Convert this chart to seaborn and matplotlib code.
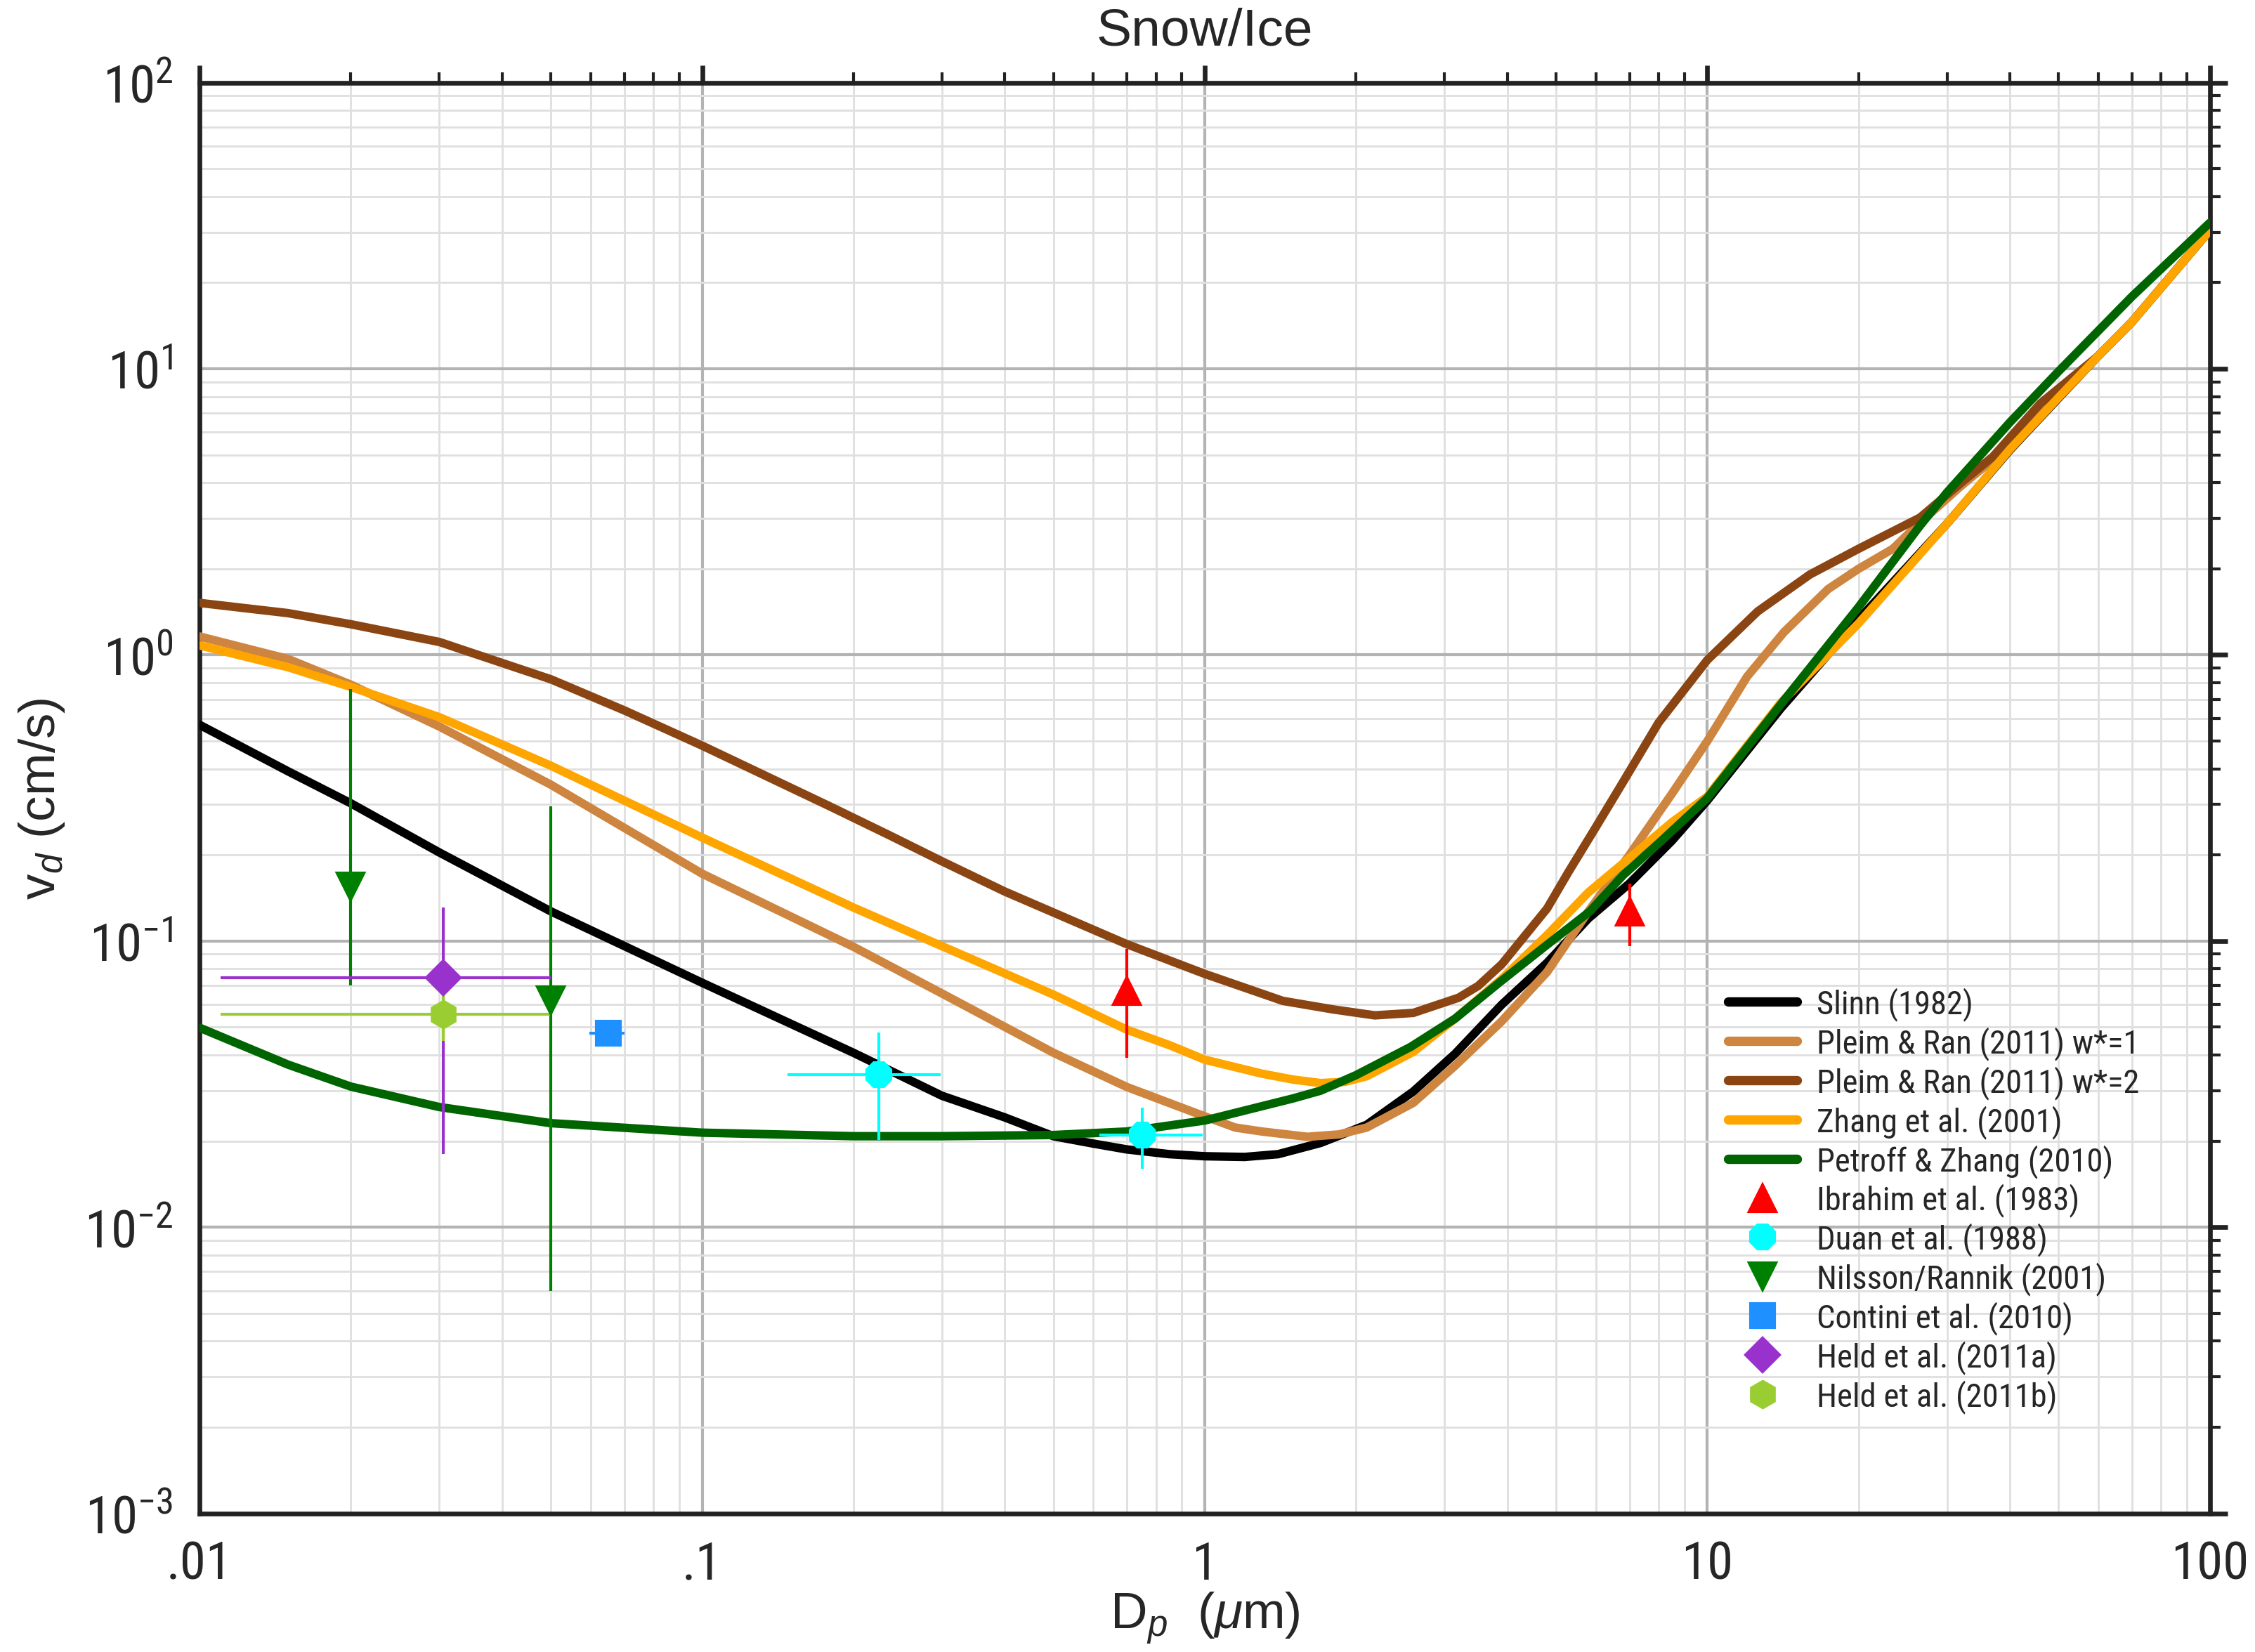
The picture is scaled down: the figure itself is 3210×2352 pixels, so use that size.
import numpy as np
import pandas as pd
import matplotlib
matplotlib.use("Agg")
import matplotlib.pyplot as plt
import matplotlib.ticker as mticker
from matplotlib.lines import Line2D
from matplotlib import font_manager
import seaborn as sns

# -------------------------
# model curves (D in um, vd in cm/s)
# -------------------------

slinn_d = [0.01, 0.015, 0.02, 0.03, 0.05, 0.1, 0.2, 0.3, 0.4, 0.5, 0.6, 0.7, 0.85,
           1.0, 1.2, 1.4, 1.7, 2.1, 2.6, 3.15, 3.9, 4.8, 5.8, 7.0, 8.5, 10, 14,
           20, 30, 40, 50, 60, 70, 100]
slinn_v = [0.57, 0.392, 0.303, 0.204, 0.127, 0.0715, 0.0407, 0.0288, 0.0242,
           0.0208, 0.0196, 0.0187, 0.018, 0.0177, 0.0176, 0.018, 0.0197, 0.0228,
           0.0298, 0.0404, 0.060, 0.084, 0.12, 0.159, 0.224, 0.31, 0.65, 1.33,
           2.88, 5.2, 7.9, 11.1, 14.6, 30.5]

pleim1_d = [0.01, 0.015, 0.02, 0.03, 0.05, 0.1, 0.2, 0.3, 0.5, 0.7, 1.0, 1.15,
            1.3, 1.6, 1.85, 2.1, 2.6, 3.15, 3.9, 4.8, 5.8, 7.0, 8.5, 10, 12,
            14.2, 17.4, 20, 23.4, 26.5, 32, 40, 50, 60, 70, 100]
pleim1_v = [1.16, 0.968, 0.787, 0.562, 0.352, 0.172, 0.0955, 0.0656, 0.0407,
            0.0309, 0.0244, 0.0223, 0.0216, 0.0207, 0.0211, 0.0223, 0.0272,
            0.0367, 0.0525, 0.078, 0.127, 0.2, 0.327, 0.5, 0.84, 1.2, 1.7, 2.0,
            2.35, 2.9, 3.9, 5.4, 8.0, 11.1, 14.6, 30.5]

pleim2_d = [0.01, 0.015, 0.02, 0.03, 0.05, 0.07, 0.1, 0.18, 0.235, 0.3, 0.4, 0.7,
            1.0, 1.43, 1.8, 2.18, 2.6, 3.2, 3.5, 3.9, 4.8, 5.3, 6.0, 6.8, 8.0,
            10, 12.6, 16, 20, 26.5, 32, 37, 46, 60, 70, 100]
pleim2_v = [1.52, 1.40, 1.28, 1.11, 0.822, 0.64, 0.482, 0.295, 0.235, 0.19,
            0.149, 0.0975, 0.0768, 0.0618, 0.0577, 0.055, 0.0561, 0.0634,
            0.0697, 0.083, 0.13, 0.175, 0.25, 0.36, 0.58, 0.96, 1.42, 1.91,
            2.35, 3.02, 4.0, 4.93, 7.57, 11.1, 14.6, 30.5]

zhang_d = [0.01, 0.015, 0.02, 0.03, 0.05, 0.1, 0.2, 0.3, 0.5, 0.7, 0.85, 1.0,
           1.3, 1.5, 1.7, 1.9, 2.1, 2.6, 3.15, 3.9, 4.8, 5.8, 7.0, 8.5, 10, 14,
           20, 30, 40, 50, 60, 70, 100]
zhang_v = [1.08, 0.906, 0.773, 0.606, 0.41, 0.23, 0.131, 0.096, 0.065, 0.049,
           0.0433, 0.0385, 0.0344, 0.0328, 0.0319, 0.0322, 0.0337, 0.041,
           0.0536, 0.0738, 0.105, 0.148, 0.195, 0.26, 0.32, 0.68, 1.29, 2.88,
           5.23, 7.94, 11.1, 14.6, 30.5]

petroff_d = [0.01, 0.015, 0.02, 0.03, 0.05, 0.1, 0.2, 0.3, 0.5, 0.7, 1.0, 1.5,
             1.7, 2.0, 2.57, 3.15, 3.87, 4.76, 5.84, 6.8, 8.1, 10, 14.2, 20,
             26.5, 30, 40, 50, 70, 100]
petroff_v = [0.0498, 0.037, 0.031, 0.0263, 0.0231, 0.0214, 0.0208, 0.0208,
             0.0210, 0.0216, 0.0236, 0.0282, 0.030, 0.034, 0.0427, 0.0536,
             0.072, 0.096, 0.127, 0.17, 0.224, 0.316, 0.693, 1.47, 2.83, 3.70,
             6.5, 9.8, 17.9, 32.4]

model_names = ["Slinn (1982)", "Pleim & Ran (2011) w*=1", "Pleim & Ran (2011) w*=2",
               "Zhang et al. (2001)", "Petroff & Zhang (2010)"]
model_colors = ["#000000", "#CD853F", "#8B4513", "#FFA500", "#006400"]

# -------------------------
# measurements
# -------------------------

ibrahim_d = [0.70, 7.0]
ibrahim_v = [0.0669, 0.1265]
ibrahim_vlo = [0.039, 0.096]
ibrahim_vhi = [0.0937, 0.159]

duan_d = [0.2245, 0.75]
duan_v = [0.0341, 0.021]
duan_dlo = [0.148, 0.617]
duan_dhi = [0.298, 0.99]
duan_vlo = [0.0202, 0.016]
duan_vhi = [0.048, 0.0261]

nilsson_d = [0.02, 0.05]
nilsson_v = [0.155, 0.062]
nilsson_vlo = [0.07, 0.006]
nilsson_vhi = [0.76, 0.296]

contini_d = [0.065]
contini_v = [0.0477]
contini_dlo = [0.0597]
contini_dhi = [0.070]

helda_d = [0.0305]
helda_v = [0.0746]
helda_dlo = [0.011]
helda_dhi = [0.05]
helda_vlo = [0.018]
helda_vhi = [0.131]

heldb_d = [0.0305]
heldb_v = [0.0555]
heldb_dlo = [0.011]
heldb_dhi = [0.05]
heldb_vlo = [0.0447]
heldb_vhi = [0.0665]


def pick_narrow():
    names = {f.name for f in font_manager.fontManager.ttflist}
    for cand in ["Liberation Sans Narrow", "Roboto Condensed", "Open Sans Condensed",
                 "Noto Sans Condensed", "DejaVu Sans Condensed"]:
        if cand in names:
            return cand, True
    return "Liberation Sans", False


def main():

    sns.set_style("white")

    narrow, is_narrow = pick_narrow()

    plt.rcParams["font.family"] = ["Liberation Sans", "DejaVu Sans"]
    plt.rcParams["mathtext.fontset"] = "custom"
    plt.rcParams["mathtext.rm"] = narrow
    plt.rcParams["mathtext.it"] = "Liberation Sans:italic"
    plt.rcParams["mathtext.default"] = "regular"
    text_col = "#262626"

    tick_size = 18 if is_narrow else 16.5
    leg_size = 11.2 if is_narrow else 10.3

    fig = plt.figure(figsize=(10.7, 7.843), dpi=300)
    ax = fig.add_axes([0.0885, 0.0839, 0.8915, 0.8657])

    ax.set_xscale("log")
    ax.set_yscale("log")

    # -------------------------
    # model curves
    # -------------------------

    curves = [
        (slinn_d, slinn_v),
        (pleim1_d, pleim1_v),
        (pleim2_d, pleim2_v),
        (zhang_d, zhang_v),
        (petroff_d, petroff_v),
    ]
    frames = []
    for name, (d, v) in zip(model_names, curves):
        frames.append(pd.DataFrame({"D": d, "v": v, "model": name}))
    df = pd.concat(frames, ignore_index=True)

    sns.lineplot(data=df, x="D", y="v", hue="model", hue_order=model_names,
                 palette=model_colors, lw=2.9, estimator=None, sort=False,
                 legend=False, ax=ax, zorder=3)
    for ln in ax.get_lines():
        ln.set_solid_joinstyle("round")

    # -------------------------
    # measurements with error bars
    # -------------------------

    def asym(c, lo, hi):
        c = np.asarray(c)
        return [c - np.asarray(lo), np.asarray(hi) - c]

    ew = 1.0

    ax.errorbar(ibrahim_d, ibrahim_v, yerr=asym(ibrahim_v, ibrahim_vlo, ibrahim_vhi),
                fmt="none", ecolor="red", elinewidth=ew, capsize=0, zorder=4)
    ax.plot(ibrahim_d, ibrahim_v, ls="none", marker="^", ms=9, color="red", zorder=5)

    ax.errorbar(duan_d, duan_v, xerr=asym(duan_d, duan_dlo, duan_dhi),
                yerr=asym(duan_v, duan_vlo, duan_vhi),
                fmt="none", ecolor="#00FFFF", elinewidth=ew, capsize=0, zorder=4)
    ax.plot(duan_d, duan_v, ls="none", marker="8", ms=9, color="#00FFFF", zorder=5)

    ax.errorbar(nilsson_d, nilsson_v, yerr=asym(nilsson_v, nilsson_vlo, nilsson_vhi),
                fmt="none", ecolor="#008000", elinewidth=ew, capsize=0, zorder=4)
    ax.plot(nilsson_d, nilsson_v, ls="none", marker="v", ms=9, color="#008000", zorder=5)

    ax.errorbar(contini_d, contini_v, xerr=asym(contini_d, contini_dlo, contini_dhi),
                fmt="none", ecolor="#1E90FF", elinewidth=ew, capsize=0, zorder=4)
    ax.plot(contini_d, contini_v, ls="none", marker="s", ms=8, color="#1E90FF", zorder=5)

    ax.errorbar(helda_d, helda_v, xerr=asym(helda_d, helda_dlo, helda_dhi),
                yerr=asym(helda_v, helda_vlo, helda_vhi),
                fmt="none", ecolor="#9932CC", elinewidth=ew, capsize=0, zorder=4)
    ax.plot(helda_d, helda_v, ls="none", marker="D", ms=8, color="#9932CC", zorder=5)

    ax.errorbar(heldb_d, heldb_v, xerr=asym(heldb_d, heldb_dlo, heldb_dhi),
                yerr=asym(heldb_v, heldb_vlo, heldb_vhi),
                fmt="none", ecolor="#9ACD32", elinewidth=ew, capsize=0, zorder=4)
    ax.plot(heldb_d, heldb_v, ls="none", marker="h", ms=9, color="#9ACD32", zorder=5)

    # -------------------------
    # axes, ticks, grid
    # -------------------------

    ax.set_xlim(0.01, 100)
    ax.set_ylim(1e-3, 1e2)

    ax.xaxis.set_major_locator(mticker.FixedLocator([0.01, 0.1, 1, 10, 100]))
    ax.xaxis.set_major_formatter(mticker.FixedFormatter([".01", ".1", "1", "10", "100"]))
    ax.xaxis.set_minor_locator(mticker.LogLocator(base=10, subs=np.arange(2, 10), numticks=20))
    ax.xaxis.set_minor_formatter(mticker.NullFormatter())

    ytick_vals = [1e-3, 1e-2, 1e-1, 1e0, 1e1, 1e2]
    ytick_labels = [r"10$^{-3}$", r"10$^{-2}$", r"10$^{-1}$", r"10$^{0}$", r"10$^{1}$", r"10$^{2}$"]
    ax.yaxis.set_major_locator(mticker.FixedLocator(ytick_vals))
    ax.yaxis.set_major_formatter(mticker.FixedFormatter(ytick_labels))
    ax.yaxis.set_minor_locator(mticker.LogLocator(base=10, subs=np.arange(2, 10), numticks=20))
    ax.yaxis.set_minor_formatter(mticker.NullFormatter())

    ax.tick_params(which="both", direction="out", top=True, right=True,
                   color="#222222", labelcolor=text_col)
    ax.tick_params(which="major", length=6, width=1.6, labelsize=tick_size, pad=3)
    ax.tick_params(which="minor", length=3.5, width=1.0)
    for lab in ax.get_xticklabels() + ax.get_yticklabels():
        lab.set_fontfamily(narrow)

    ax.grid(True, which="major", color="#b3b3b3", lw=1.0, zorder=0)
    ax.grid(True, which="minor", color="#e0e0e0", lw=0.7, zorder=0)
    ax.set_axisbelow(True)

    for sp in ax.spines.values():
        sp.set_color("#222222")
        sp.set_linewidth(1.6)
        sp.set_visible(True)

    ax.set_title("Snow/Ice", fontsize=18, color=text_col, pad=13)
    ax.set_xlabel(r"D$_{\mathit{p}}$  ($\mathit{\mu}$m)", fontsize=17.5, color=text_col, labelpad=0)
    ax.set_ylabel(r"v$_{\mathit{d}}$ (cm/s)", fontsize=17.5, color=text_col, labelpad=6)

    # -------------------------
    # legend
    # -------------------------

    handles = [Line2D([], [], color=c, lw=3.2, solid_capstyle="round") for c in model_colors]
    handles += [
        Line2D([], [], ls="none", marker="^", ms=9, color="red"),
        Line2D([], [], ls="none", marker="8", ms=9, color="#00FFFF"),
        Line2D([], [], ls="none", marker="v", ms=9, color="#008000"),
        Line2D([], [], ls="none", marker="s", ms=8, color="#1E90FF"),
        Line2D([], [], ls="none", marker="D", ms=8, color="#9932CC"),
        Line2D([], [], ls="none", marker="h", ms=9, color="#9ACD32"),
    ]
    labels = model_names + ["Ibrahim et al. (1983)", "Duan et al. (1988)",
                            "Nilsson/Rannik (2001)", "Contini et al. (2010)",
                            "Held et al. (2011a)", "Held et al. (2011b)"]
    leg = ax.legend(handles, labels, loc="upper left", bbox_to_anchor=(0.754, 0.377),
                    frameon=False, handlelength=2.1, handletextpad=0.6,
                    labelspacing=0.17, borderaxespad=0,
                    prop={"family": narrow, "size": leg_size})
    for t in leg.get_texts():
        t.set_color(text_col)

    plt.savefig("out.png", dpi=300)
    plt.close()


if __name__ == "__main__":
    main()
